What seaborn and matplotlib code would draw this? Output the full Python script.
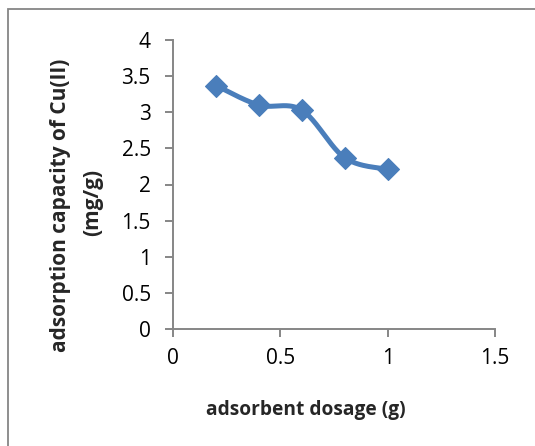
import numpy as np
import pandas as pd
import matplotlib
matplotlib.use("Agg")
import matplotlib.pyplot as plt
import seaborn as sns
from matplotlib.patches import Rectangle

# Data
dosage = [0.2, 0.4, 0.6, 0.8, 1.0]
capacity = [3.37, 3.10, 3.03, 2.37, 2.21]
x_ticks = [0, 0.5, 1, 1.5]
x_tick_labels = ["0", "0.5", "1", "1.5"]
y_ticks = [0, 0.5, 1, 1.5, 2, 2.5, 3, 3.5, 4]
y_tick_labels = ["0", "0.5", "1", "1.5", "2", "2.5", "3", "3.5", "4"]
x_label = "adsorbent dosage (g)"
y_label_lines = ["adsorption capacity of Cu(II)", "(mg/g)"]

sns.set_style("white")
plt.rcParams['font.family'] = ['Open Sans', 'DejaVu Sans']

COLOR = "#4A7EBB"
AXCOL = "#868686"

def excel_smooth(xs, ys, n=40):
    P = np.column_stack([xs, ys]).astype(float)
    out = []
    for i in range(len(P) - 1):
        p0 = P[i - 1] if i > 0 else P[i]
        p1 = P[i]
        p2 = P[i + 1]
        p3 = P[i + 2] if i + 2 < len(P) else P[i + 1]
        c1 = p1 + (p2 - p0) / 6.0
        c2 = p2 - (p3 - p1) / 6.0
        t = np.linspace(0, 1, n)[:, None]
        seg = ((1 - t) ** 3) * p1 + 3 * ((1 - t) ** 2) * t * c1 + 3 * (1 - t) * t ** 2 * c2 + t ** 3 * p2
        if i > 0:
            seg = seg[1:]
        out.append(seg)
    out = np.vstack(out)
    return out[:, 0], out[:, 1]

df = pd.DataFrame({"dosage": dosage, "capacity": capacity})
sx, sy = excel_smooth(df["dosage"].values, df["capacity"].values)
curve = pd.DataFrame({"x": sx, "y": sy})

fig = plt.figure(figsize=(5.35, 4.46), dpi=100)
ax = fig.add_axes([173 / 535, 1 - 329 / 446, (495 - 173) / 535, (329 - 40) / 446])

sns.lineplot(data=curve, x="x", y="y", sort=False, ax=ax, color=COLOR,
             linewidth=3.6, estimator=None, solid_capstyle="round")
sns.scatterplot(data=df, x="dosage", y="capacity", ax=ax, marker="D", s=125,
                color=COLOR, edgecolor=COLOR, linewidth=0.8, zorder=5)

ax.set_xlim(0, 1.5)
ax.set_ylim(0, 4)
ax.set_xticks(x_ticks)
ax.set_xticklabels(x_tick_labels)
ax.set_yticks(y_ticks)
ax.set_yticklabels(y_tick_labels)
ax.set_xlabel("")
ax.set_ylabel("")

for s in ["top", "right"]:
    ax.spines[s].set_visible(False)
for s in ["left", "bottom"]:
    ax.spines[s].set_color(AXCOL)
    ax.spines[s].set_linewidth(1.4)

ax.tick_params(axis="both", which="major", direction="out", length=6, width=1.4,
               color=AXCOL, labelsize=15, labelcolor="black")
ax.tick_params(axis="x", pad=8, bottom=True)
ax.tick_params(axis="y", pad=10, left=True)

fig.text(306 / 535, 1 - 410 / 446, x_label, ha="center", va="center",
         fontsize=13.8, fontweight="bold")
fig.text(61 / 535, 1 - 205 / 446, y_label_lines[0], ha="center", va="center",
         rotation=90, fontsize=15, fontweight="bold")
fig.text(93 / 535, 1 - 202 / 446, y_label_lines[1], ha="center", va="center",
         rotation=90, fontsize=15, fontweight="bold")

# outer chart border (only top and left visible)
fig.patches.append(Rectangle((8 / 535, -0.1), 1.2, 1 - 9 / 446 + 0.1,
                             transform=fig.transFigure, fill=False,
                             edgecolor=AXCOL, linewidth=1.3))

fig.savefig("out.png", dpi=100)
